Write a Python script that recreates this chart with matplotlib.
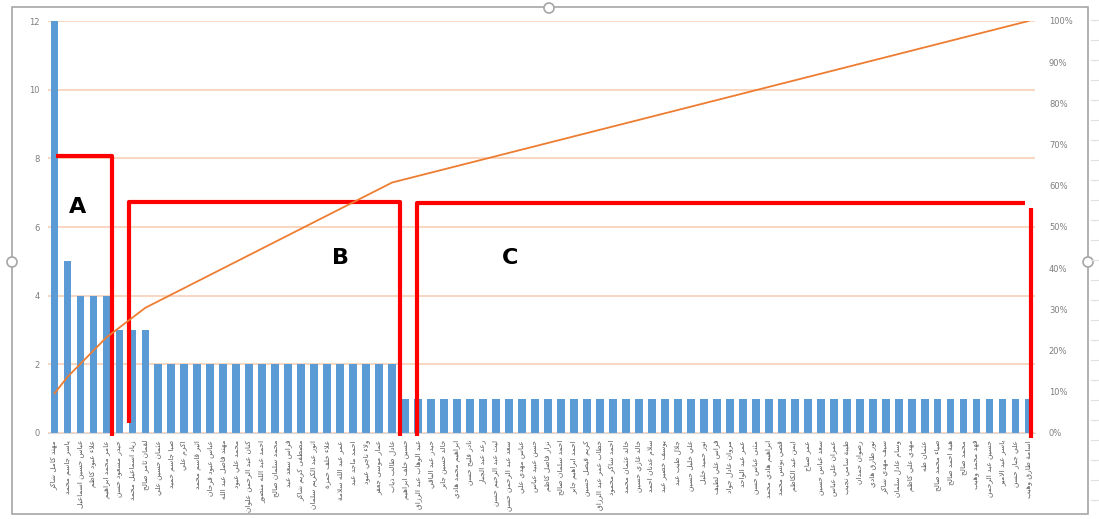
import numpy as np
import matplotlib.pyplot as plt
from matplotlib.patches import Rectangle, Ellipse
from matplotlib.ticker import PercentFormatter

# employee names (category axis) and their counts
names = [
    "مهند كامل شاكر", "ياسر جاسم محمد", "عباس حسين اسماعيل", "علاء عبود كاظم",
    "عامر محمد ابراهيم", "حيدر مسعود حسن", "زياد اسماعيل محمد", "لقمان ثامر صالح",
    "عثمان حسين علي", "صبا جاسم حميد", "اكرم علي", "اثير قاسم محمد",
    "عباس عبود فرحان", "مهند فاضل عبد الله", "محمد علي عبود", "كنان عبد الرحمن علوان",
    "احمد عبد الله منصور", "محمد سلمان صالح", "فراس سعد عبد", "مصطفى كريم شاكر",
    "انور عبد الكريم سلمان", "علاء خلف حمزة", "عمر عبد الله سلامة", "احمد ماجد عبد",
    "ولاء ناجي عبود", "عمار موسى جعفر", "عادل طالب ذياب", "حسين خلف ابراهيم",
    "عبد الوهاب عبد الرزاق", "حيدر عبد الباقي", "خالد حسين جابر", "ابراهيم محمد هادي",
    "نادر فليح حسن", "رعد عبد الجبار", "ليث عبد الرحيم حسن", "سعد عبد الرحمن حسن",
    "عباس مهدي علي", "حسن عبيد عباس", "نزار فاضل كاظم", "احمد سلمان صالح",
    "احمد ابراهيم جابر", "كريم فيصل حسين", "خطاب عمر عبد الرزاق", "احمد شاكر محمود",
    "خالد عثمان محمد", "خالد غازي حسين", "سلام عدنان احمد", "يوسف خضير عبد",
    "جلال طيب عبد", "علي خليل حسين", "نور حميد خليل", "فراس علي لطيف",
    "مروان عادل جواد", "عمر عبد الواحد", "مثنى عباس حسن", "ابراهيم هادي محمد",
    "قصي يونس محمد", "ايمن عبد الكاظم", "عمر صباح", "سعد عباس حسين",
    "عمران علي عباس", "طيبة سامي نجيب", "رضوان حمدان", "نور طارق هادي",
    "سيف مهدي شاكر", "وسام عادل سلمان", "مهدي علي كاظم", "عثمان طه",
    "ضياء محمد صالح", "هبة احمد صالح", "محمد صالح", "فهد محمد وهيب",
    "حسين عبد الرحمن", "ياسر عبد الامير", "علي جبار حسن", "اسامة طارق وهيب",
]
counts = [
    12, 5, 4, 4, 4, 3, 3, 3,
    2, 2, 2, 2, 2, 2, 2, 2, 2, 2, 2, 2, 2, 2, 2, 2, 2, 2, 2,
    1, 1, 1, 1, 1, 1, 1, 1, 1, 1, 1, 1, 1, 1, 1, 1, 1, 1, 1, 1,
    1, 1, 1, 1, 1, 1, 1, 1, 1, 1, 1, 1, 1, 1, 1, 1, 1, 1, 1, 1,
    1, 1, 1, 1, 1, 1, 1, 1, 1,
]
left_ticks = [0, 2, 4, 6, 8, 10, 12]
right_ticks = [0, .1, .2, .3, .4, .5, .6, .7, .8, .9, 1.0]

# matplotlib has no arabic shaping, so map letters to presentation forms by hand
_table = [
    ("ء", 0xFE80, 1), ("آ", 0xFE81, 2), ("أ", 0xFE83, 2), ("ؤ", 0xFE85, 2),
    ("إ", 0xFE87, 2), ("ئ", 0xFE89, 4), ("ا", 0xFE8D, 2), ("ب", 0xFE8F, 4),
    ("ة", 0xFE93, 2), ("ت", 0xFE95, 4), ("ث", 0xFE99, 4), ("ج", 0xFE9D, 4),
    ("ح", 0xFEA1, 4), ("خ", 0xFEA5, 4), ("د", 0xFEA9, 2), ("ذ", 0xFEAB, 2),
    ("ر", 0xFEAD, 2), ("ز", 0xFEAF, 2), ("س", 0xFEB1, 4), ("ش", 0xFEB5, 4),
    ("ص", 0xFEB9, 4), ("ض", 0xFEBD, 4), ("ط", 0xFEC1, 4), ("ظ", 0xFEC5, 4),
    ("ع", 0xFEC9, 4), ("غ", 0xFECD, 4), ("ف", 0xFED1, 4), ("ق", 0xFED5, 4),
    ("ك", 0xFED9, 4), ("ل", 0xFEDD, 4), ("م", 0xFEE1, 4), ("ن", 0xFEE5, 4),
    ("ه", 0xFEE9, 4), ("و", 0xFEED, 2), ("ى", 0xFEEF, 2), ("ي", 0xFEF1, 4),
]
FORMS = {c: tuple(chr(s + k) for k in range(n)) for c, s, n in _table}
LAM_ALEF = {"آ": (0xFEF5, 0xFEF6), "أ": (0xFEF7, 0xFEF8),
            "إ": (0xFEF9, 0xFEFA), "ا": (0xFEFB, 0xFEFC)}


def dual(c):
    return c in FORMS and len(FORMS[c]) == 4


def shape(text):
    out = []
    i = 0
    while i < len(text):
        c = text[i]
        if c not in FORMS:
            out.append(c)
            i += 1
            continue
        join_prev = i > 0 and dual(text[i - 1])
        if c == "ل" and i + 1 < len(text) and text[i + 1] in LAM_ALEF:
            iso, fin = LAM_ALEF[text[i + 1]]
            out.append(chr(fin if join_prev else iso))
            i += 2
            continue
        nxt = text[i + 1] if i + 1 < len(text) else ""
        join_next = dual(c) and nxt in FORMS and nxt != "ء"
        f = FORMS[c]
        if len(f) == 1:
            out.append(f[0])
        elif join_prev and join_next:
            out.append(f[3])
        elif join_prev:
            out.append(f[1])
        elif join_next:
            out.append(f[2])
        else:
            out.append(f[0])
        i += 1
    return "".join(out)[::-1]


W, H = 1099, 519
fig = plt.figure(figsize=(W / 100, H / 100), dpi=100)
fig.patch.set_facecolor("white")

ax = fig.add_axes([48 / W, 1 - 433 / H, (1035 - 48) / W, (433 - 21) / H])
x = np.arange(len(counts))
cum = np.cumsum(counts) / np.sum(counts)

ax.bar(x, counts, width=0.6, color="#5B9BD5", zorder=2)
ax.set_xlim(-0.5, len(counts) - 0.5)
ax.set_ylim(0, 12)
ax.set_yticks(left_ticks)
ax.yaxis.grid(True, color="#F8CBAD", lw=1.1, zorder=0)
ax.set_axisbelow(True)
for s in ["top", "left", "right"]:
    ax.spines[s].set_visible(False)
ax.spines["bottom"].set_color("#d9d9d9")
ax.tick_params(axis="y", length=0, pad=6, labelsize=6, labelcolor="#7f7f7f")
ax.set_xticks(x)
ax.set_xticklabels([shape(n) for n in names], rotation=90, fontsize=5.3,
                   color="#595959", va="top", ha="center")
ax.tick_params(axis="x", length=0, pad=5)

ax2 = ax.twinx()
ax2.plot(x, cum, color="#ED7D31", lw=1.3, zorder=3)
ax2.set_ylim(0, 1)
ax2.set_yticks(right_ticks)
ax2.yaxis.set_major_formatter(PercentFormatter(1.0, decimals=0))
ax2.tick_params(axis="y", length=0, pad=10, labelsize=6, labelcolor="#7f7f7f")
for s in ax2.spines.values():
    s.set_visible(False)

# A / B / C groups drawn as red brackets
red = dict(color="#FF0000", lw=3, solid_capstyle="butt", zorder=5, clip_on=False)
ax.plot([0.15, 4.46, 4.46], [8.07, 8.07, -0.1], **red)
ax.plot([5.7, 5.7, 26.6, 26.6], [0.3, 6.73, 6.73, -0.1], **red)
ax.plot([27.9, 27.9, 74.7], [-0.1, 6.70, 6.70], **red)
ax.plot([75.2, 75.2], [6.55, -0.15], **red)
for lab, lx, ly in [("A", 1.8, 6.58), ("B", 22.0, 5.1), ("C", 35.1, 5.1)]:
    ax.text(lx, ly, lab, fontsize=16, fontweight="bold", color="black",
            ha="center", va="center", zorder=6)

# chart frame with selection handles
fig.add_artist(Rectangle((12 / W, 5 / H), (1088 - 12) / W, (512 - 5) / H,
                         transform=fig.transFigure, fill=False,
                         edgecolor="#a6a6a6", lw=1.2))
for hx, hy in [(549, 8), (12, 262), (1088, 262)]:
    fig.add_artist(Ellipse((hx / W, 1 - hy / H), 10 / W, 10 / H,
                           transform=fig.transFigure, facecolor="white",
                           edgecolor="#a6a6a6", lw=1.2))
for gy in range(20, H, 20):
    fig.add_artist(plt.Line2D([1091 / W, 1], [1 - gy / H, 1 - gy / H],
                              transform=fig.transFigure, color="#e0e0e0", lw=0.8))

fig.savefig("out.png", dpi=100)
